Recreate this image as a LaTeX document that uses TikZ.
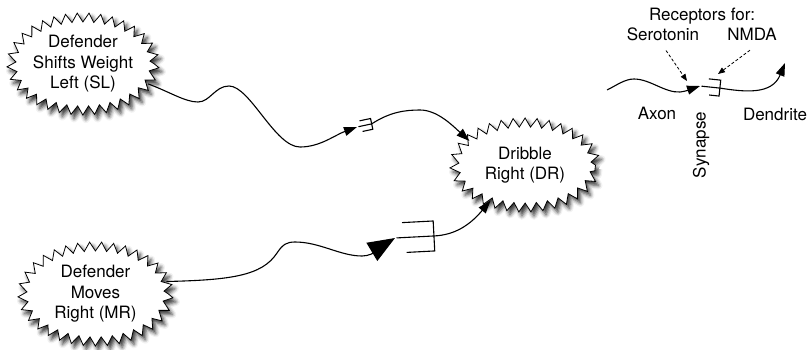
\documentclass[tikz,border=0pt]{standalone}
\usepackage{fontspec}
\setmainfont{TeX Gyre Heros}
\usetikzlibrary{shapes.geometric,decorations.pathmorphing,arrows.meta,shadows.blur}
\begin{document}
\begin{tikzpicture}[x=1pt,y=-1pt,
  txt/.style={font=\fontsize{17}{20.5}\selectfont, align=center, inner sep=0pt},
  starb/.style={ellipse, draw, line width=0.8pt, fill=white, inner sep=0pt,
    decorate, decoration={zigzag, segment length=#1, amplitude=4.5pt},
    blur shadow={shadow xshift=3pt, shadow yshift=-4pt, shadow blur radius=4pt, shadow opacity=80},
    txt},
  conn/.style={line width=1.1pt},
  synl/.style={line width=1.1pt},
  tipS/.style={-{Triangle[length=13pt,width=9pt]}},
  tipB/.style={-{Triangle[length=27pt,width=21pt]}},
  dsh/.style={line width=0.8pt, dash pattern=on 3pt off 2pt, -{Triangle[length=7pt,width=5.5pt]}},
  pics/syn/.style n args={4}{code={
    \coordinate (-in) at (0,0);
    \coordinate (-out) at (#1,0);
    \draw[synl] (1.5,0) -- (#1,0);
    \draw[synl] (#3*#1,-#2) -- (#1,-#2) -- (#1,#2) -- (#4*#1,#2);
  }}
]
\useasboundingbox (0,0) rectangle (812,349);

% starburst nodes
\node[starb=11.36, minimum width=143pt, minimum height=93pt] (SL) at (83,64) {Defender\\Shifts Weight\\Left (SL)};
\node[starb=11.6, minimum width=146pt, minimum height=95pt] (MR) at (95.5,294) {Defender\\Moves\\Right (MR)};
\node[starb=11.63, minimum width=141pt, minimum height=85pt] (DR) at (525,165) {Dribble\\Right (DR)};

% synapse symbols
\pic (s1) [rotate=12] at (357,127) {syn={15}{5.5}{0.25}{0.3}};
\pic (s2) [rotate=3] at (395,238) {syn={39}{15}{0.2}{0.28}};
\pic (s3) [rotate=-6] at (700,86) {syn={20}{8}{0.4}{0.5}};

% SL -> synapse -> DR
\draw[conn, tipS] (SL.-17) .. controls (170,92) and (185,102) .. (198,102)
  .. controls (210,102) and (215,86) .. (229,86)
  .. controls (250,86) and (275,147) .. (300,147)
  .. controls (320,147) and (335,135) .. (s1-in);
\draw[conn, tipS, shorten >=-2pt] (s1-out) .. controls (390,112) and (405,110) .. (420,110)
  .. controls (437,110) and (452,125) .. (DR.156);

% MR -> synapse -> DR
\draw[conn, tipB] (MR.10) .. controls (230,280) and (262,276) .. (277,253)
  .. controls (283,244) and (287,242) .. (295,242)
  .. controls (320,242) and (340,256) .. (362,256)
  .. controls (375,256) and (385,244) .. (s2-in);
\draw[conn, tipS, shorten >=-2pt] (s2-out) .. controls (455,235) and (470,225) .. (DR.226);

% legend
\node[txt, anchor=base] (rec) at (702,20.5) {Receptors for:};
\node[txt, anchor=base] (sero) at (663,40) {Serotonin};
\node[txt, anchor=base] (nmda) at (752,40) {NMDA};
\node[txt, anchor=base] (axon) at (657,119) {Axon};
\node[txt, anchor=base] (dend) at (775,120) {Dendrite};
\node[txt, rotate=90] (synlab) at (701,145) {Synapse};

\coordinate (ax0) at (607,90);
\coordinate (dtip) at (785,63);
\coordinate (serot) at (687,81);
\coordinate (nmdat) at (718,74);

\draw[conn, tipS] (ax0) .. controls (617,85) and (625,79) .. (634,79)
  .. controls (650,79) and (665,93) .. (680,92)
  .. controls (688,91) and (694,88) .. (s3-in);
\draw[conn, tipS] (s3-out) .. controls (745,92) and (772,95) .. (dtip);

\draw[dsh] ([xshift=3pt,yshift=-10pt]sero.south) -- (serot);
\draw[dsh] ([xshift=-2pt,yshift=-10pt]nmda.south) -- (nmdat);
\end{tikzpicture}
\end{document}
